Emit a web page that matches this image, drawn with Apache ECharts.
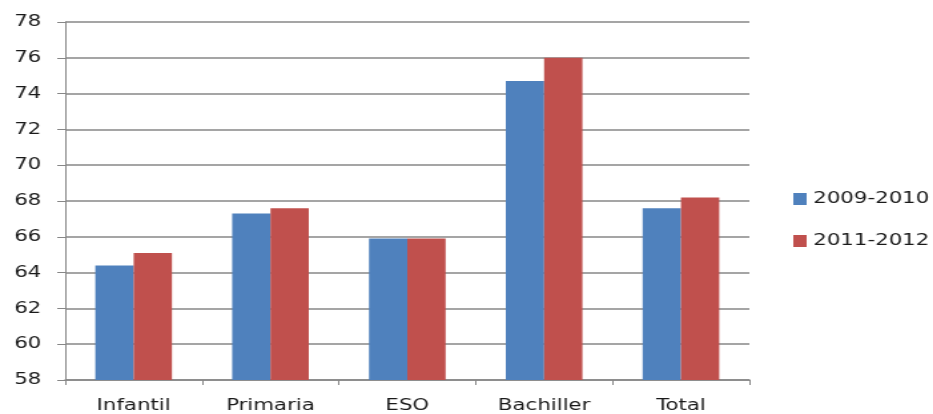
<!DOCTYPE html>
<html>
<head>
<meta charset="utf-8">
<script src="https://cdn.jsdelivr.net/npm/echarts@6/dist/echarts.min.js"></script>
<style>
  html, body { margin: 0; padding: 0; background: #ffffff; overflow: hidden; }
  /* the chart is laid out narrower and widened so that its lettering comes out broad */
  #chart { width: 701px; height: 414px; transform: scaleX(1.331); transform-origin: 0 0; }
</style>
</head>
<body>
<div id="chart"></div>
<script>
// Education levels and the two school-year series
const categories = ['Infantil', 'Primaria', 'ESO', 'Bachiller', 'Total'];
const series2009 = [64.4, 67.3, 65.9, 74.7, 67.6];
const series2011 = [65.1, 67.6, 65.9, 76.0, 68.2];
const seriesNames = ['2009-2010', '2011-2012'];

const textColor = '#1a1a1a';
const fontFamily = 'DejaVu Sans, Verdana, sans-serif';
const gridColor = '#878787';

const chart = echarts.init(document.getElementById('chart'), null, { renderer: 'canvas' });

chart.setOption({
  animation: false,
  backgroundColor: '#ffffff',
  grid: { left: 49, right: 138, top: 22, bottom: 33, containLabel: false },
  legend: {
    orient: 'vertical',
    left: 596,
    top: 189,
    padding: 0,
    itemWidth: 10,
    itemHeight: 12,
    itemGap: 22,
    icon: 'rect',
    textStyle: { color: textColor, fontFamily: fontFamily, fontSize: 16, lineHeight: 20 },
    data: seriesNames
  },
  xAxis: {
    type: 'category',
    data: categories,
    axisLine: { lineStyle: { color: gridColor, width: 1.5 } },
    axisTick: { show: true, length: 5, lineStyle: { color: gridColor } },
    axisLabel: { color: textColor, fontFamily: fontFamily, fontSize: 16, margin: 18 }
  },
  yAxis: {
    type: 'value',
    min: 58,
    max: 78,
    interval: 2,
    axisLine: { show: true, lineStyle: { color: gridColor, width: 1 } },
    axisTick: { show: true, length: 6, lineStyle: { color: gridColor } },
    splitLine: { lineStyle: { color: gridColor, width: 1.5 } },
    axisLabel: { color: textColor, fontFamily: fontFamily, fontSize: 16, margin: 18 }
  },
  series: [
    {
      name: seriesNames[0],
      type: 'bar',
      data: series2009,
      barGap: '0%',
      barCategoryGap: '44%',
      itemStyle: { color: '#4f81bd' }
    },
    {
      name: seriesNames[1],
      type: 'bar',
      data: series2011,
      barGap: '0%',
      barCategoryGap: '44%',
      itemStyle: { color: '#c0504d' }
    }
  ]
});
</script>
</body>
</html>
